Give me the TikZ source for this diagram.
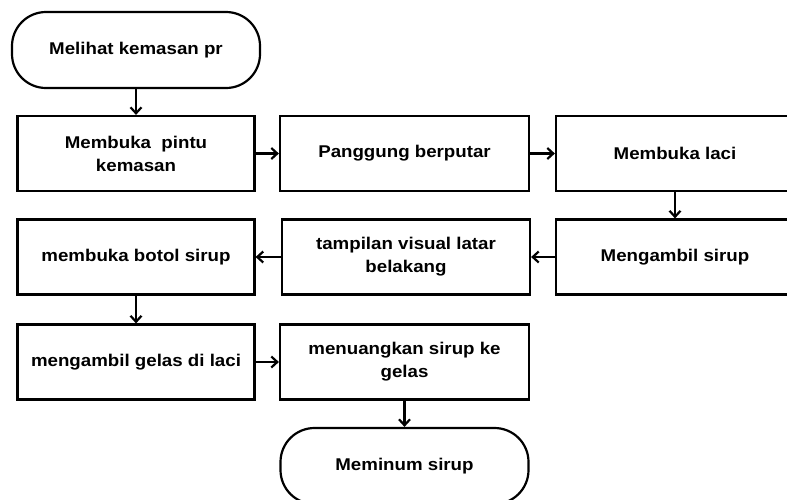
\documentclass[tikz,border=0pt]{standalone}
\usepackage{fontspec}
\setmainfont{Liberation Sans}[FakeStretch=1.1]
\usetikzlibrary{arrows.meta}
\usetikzlibrary{positioning}

\begin{document}
\begin{tikzpicture}[x=1pt,y=-1pt,
  every node/.style={font=\bfseries\fontsize{17}{23}\selectfont, align=center, inner sep=0pt},
  proc/.style={draw, line width=2.2pt, minimum width=237pt, minimum height=75pt},
  term/.style={draw, line width=2.2pt, rounded corners=34pt, minimum width=248pt, minimum height=76pt},
  flow/.style={-{Straight Barb[length=6pt,width=11pt]}, line width=2.2pt}]
 \useasboundingbox (0,0) rectangle (787,499);
 % baris pertama
 \node[term] (start) at (136,50)  {Melihat kemasan pr};
 \node[proc] (b1)    at (136,153.5) {Membuka\ \ pintu\\kemasan};
 \node[proc, minimum width=249pt] (b2) at (404.5,153.5) {Panggung berputar};
 \node[proc, minimum width=238pt] (b3) at (675,153.5) {Membuka laci};
 % baris kedua
 \node[proc, minimum width=238pt] (b4) at (675,257) {Mengambil sirup};
 \node[proc, minimum width=248pt] (b5) at (406,257) {tampilan visual latar\\belakang};
 \node[proc] (b6)    at (136,257) {membuka botol sirup};
 % baris ketiga
 \node[proc] (b7)    at (136,362) {mengambil gelas di laci};
 \node[proc, minimum width=249pt] (b8) at (404.5,362) {menuangkan sirup ke\\gelas};
 \node[term] (finish) at (404.5,466) {Meminum sirup};

 \draw[flow] (start) -- (b1);
 \draw[flow] (b1) -- (b2);
 \draw[flow] (b2) -- (b3);
 \draw[flow] (b3) -- (b4);
 \draw[flow] (b4) -- (b5);
 \draw[flow] (b5) -- (b6);
 \draw[flow] (b6) -- (b7);
 \draw[flow] (b7) -- (b8);
 \draw[flow] (b8) -- (finish);
\end{tikzpicture}
\end{document}
